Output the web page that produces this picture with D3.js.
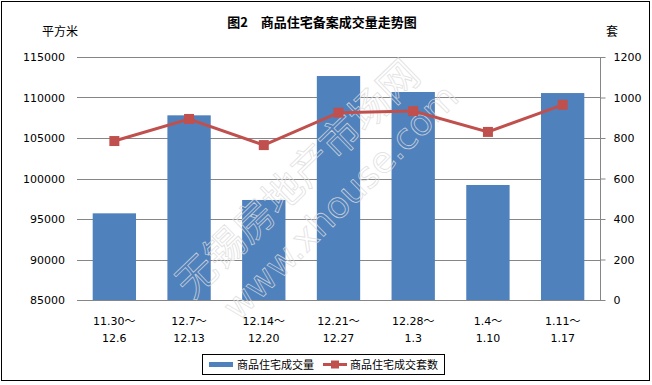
<!DOCTYPE html>
<html>
<head>
<meta charset="utf-8">
<script src="https://cdn.jsdelivr.net/npm/d3@7"></script>
<style>
  body { margin: 0; background: #fff; }
  text { font-family: "DejaVu Sans", "Noto Sans CJK SC", sans-serif; fill: #000; }
  .cjk { font-family: "Noto Sans CJK SC", sans-serif; }
</style>
</head>
<body>
<div id="chart"></div>
<script>
// weekly data
const categories = ["11.30～|12.6", "12.7～|12.13", "12.14～|12.20", "12.21～|12.27", "12.28～|1.3", "1.4～|1.10", "1.11～|1.17"];
const areaValues = [95700, 107800, 97350, 112650, 110680, 99200, 110550];
const unitValues = [785, 894, 765, 925, 933, 830, 964];
const leftTicks = [85000, 90000, 95000, 100000, 105000, 110000, 115000];
const rightTicks = [0, 200, 400, 600, 800, 1000, 1200];

const width = 652, height = 385;
const plot = { left: 77, right: 600, top: 57, bottom: 300 };

const svg = d3.select("#chart").append("svg")
  .attr("width", width)
  .attr("height", height);

// outer frame
svg.append("rect")
  .attr("x", 1.5).attr("y", 1.5)
  .attr("width", 648).attr("height", 379)
  .attr("fill", "#fff").attr("stroke", "#000").attr("stroke-width", 1);

const x = d3.scaleBand().domain(categories).range([plot.left, plot.right]).paddingInner(0.42).paddingOuter(0.21);
const yL = d3.scaleLinear().domain([85000, 115000]).range([plot.bottom, plot.top]);
const yR = d3.scaleLinear().domain([0, 1200]).range([plot.bottom, plot.top]);

// gridlines
svg.append("g")
  .selectAll("line")
  .data(leftTicks)
  .join("line")
  .attr("x1", plot.left).attr("x2", plot.right)
  .attr("y1", (d) => Math.round(yL(d)) + 0.5)
  .attr("y2", (d) => Math.round(yL(d)) + 0.5)
  .attr("stroke", "#868686");

// left tick labels
svg.append("g")
  .selectAll("text")
  .data(leftTicks)
  .join("text")
  .attr("x", 65)
  .attr("y", (d) => yL(d) + 4)
  .attr("text-anchor", "end")
  .style("font-size", "11px")
  .text((d) => d);

// right axis
const rAxis = svg.append("g").attr("transform", `translate(${plot.right + 0.5},0)`);
rAxis.call(d3.axisRight(yR).tickValues(rightTicks).tickFormat(d3.format("d")).tickSize(5).tickPadding(8));
rAxis.select(".domain").attr("stroke", "#868686").attr("d", `M0,${plot.top}V${plot.bottom}`);
rAxis.selectAll(".tick line").attr("stroke", "#868686");
rAxis.selectAll(".tick text").style("font-size", "11px").attr("font-family", null);

// bars
svg.append("g")
  .selectAll("rect")
  .data(areaValues)
  .join("rect")
  .attr("x", (d, i) => x(categories[i]))
  .attr("width", x.bandwidth())
  .attr("y", (d) => yL(d))
  .attr("height", (d) => plot.bottom - yL(d))
  .attr("fill", "#4F81BD");

// bottom axis line
svg.append("line")
  .attr("x1", plot.left).attr("x2", plot.right + 5)
  .attr("y1", plot.bottom + 0.5).attr("y2", plot.bottom + 0.5)
  .attr("stroke", "#868686");

// watermark
const wm = svg.append("g").attr("stroke", "#dcdcdc").attr("stroke-width", 0.8).attr("opacity", 0.85);
wm.append("text")
  .attr("class", "cjk")
  .attr("transform", "translate(192,300) rotate(-44)")
  .style("font-size", "40px")
  .style("fill", "none")
  .text("无锡房地产市场网");
wm.append("text")
  .attr("transform", "translate(238,322) rotate(-45)")
  .style("font-size", "36px")
  .style("fill", "none")
  .text("www.xhouse.com");

// line series
const cx = (i) => x(categories[i]) + x.bandwidth() / 2;
const line = d3.line().x((d, i) => cx(i)).y((d) => yR(d));
svg.append("path")
  .datum(unitValues)
  .attr("d", line)
  .attr("fill", "none")
  .attr("stroke", "#C0504D")
  .attr("stroke-width", 3);
svg.append("g")
  .selectAll("rect")
  .data(unitValues)
  .join("rect")
  .attr("x", (d, i) => cx(i) - 5)
  .attr("y", (d) => yR(d) - 5)
  .attr("width", 10).attr("height", 10)
  .attr("fill", "#C0504D");

// category labels
const catLabels = svg.append("g")
  .selectAll("text")
  .data(categories)
  .join("text")
  .attr("text-anchor", "middle")
  .style("font-size", "11px");
catLabels.each(function (d) {
  const parts = d.split("|");
  const t = d3.select(this);
  const c = x(d) + x.bandwidth() / 2;
  t.append("tspan").attr("x", c).attr("y", 325).text(parts[0]);
  t.append("tspan").attr("x", c).attr("y", 342).text(parts[1]);
});

// title and axis units
svg.append("text")
  .attr("class", "cjk")
  .attr("x", 322).attr("y", 27)
  .attr("text-anchor", "middle")
  .style("font-size", "13px")
  .style("font-weight", "bold")
  .text("图2　商品住宅备案成交量走势图");
svg.append("text").attr("class", "cjk")
  .attr("x", 42).attr("y", 36)
  .style("font-size", "12px")
  .text("平方米");
svg.append("text").attr("class", "cjk")
  .attr("x", 606).attr("y", 36)
  .style("font-size", "12px")
  .text("套");

// legend
const legend = svg.append("g").attr("transform", "translate(202,354)");
legend.append("rect")
  .attr("x", 0.5).attr("y", 0.5).attr("width", 242).attr("height", 20)
  .attr("fill", "#fff").attr("stroke", "#000");
legend.append("rect")
  .attr("x", 7).attr("y", 8).attr("width", 24).attr("height", 5)
  .attr("fill", "#4F81BD");
legend.append("text").attr("class", "cjk")
  .attr("x", 35).attr("y", 15)
  .style("font-size", "11px")
  .text("商品住宅成交量");
legend.append("line")
  .attr("x1", 121).attr("x2", 145).attr("y1", 10.5).attr("y2", 10.5)
  .attr("stroke", "#C0504D").attr("stroke-width", 3);
legend.append("rect")
  .attr("x", 129).attr("y", 6.5).attr("width", 8).attr("height", 8)
  .attr("fill", "#C0504D");
legend.append("text").attr("class", "cjk")
  .attr("x", 148).attr("y", 15)
  .style("font-size", "11px")
  .text("商品住宅成交套数");
</script>
</body>
</html>
